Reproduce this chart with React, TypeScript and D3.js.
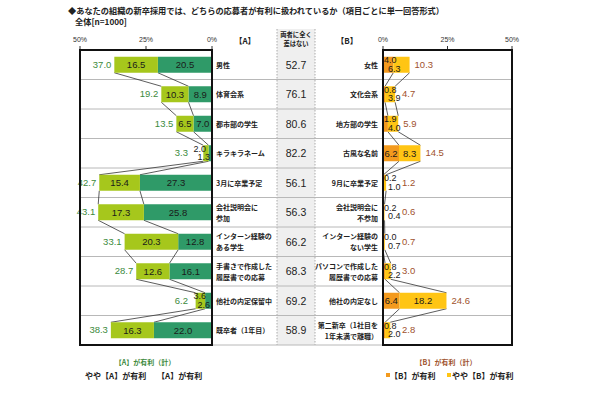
import * as d3 from "d3";

const labelsA = ["男性", "体育会系", "都市部の学生", "キラキラネーム", "3月に卒業予定", "会社説明会に\n参加", "インターン経験の\nある学生", "手書きで作成した\n履歴書での応募", "他社の内定保留中", "既卒者（1年目）"];
const labelsB = ["女性", "文化会系", "地方部の学生", "古風な名前", "9月に卒業予定", "会社説明会に\n不参加", "インターン経験の\nない学生", "パソコンで作成した\n履歴書での応募", "他社の内定なし", "第二新卒（1社目を\n1年未満で離職）"];
const aStrong = [20.5, 8.9, 7.0, 1.3, 27.3, 25.8, 12.8, 16.1, 2.6, 22.0];
const aSome = [16.5, 10.3, 6.5, 2.0, 15.4, 17.3, 20.3, 12.6, 3.6, 16.3];
const aTotal = [37.0, 19.2, 13.5, 3.3, 42.7, 43.1, 33.1, 28.7, 6.2, 38.3];
const neutral = [52.7, 76.1, 80.6, 82.2, 56.1, 56.3, 66.2, 68.3, 69.2, 58.9];
const bStrong = [4.0, 0.8, 1.9, 6.2, 0.2, 0.2, 0.0, 0.8, 6.4, 0.8];
const bSome = [6.3, 3.9, 4.0, 8.3, 1.0, 0.4, 0.7, 2.2, 18.2, 2.0];
const bTotal = [10.3, 4.7, 5.9, 14.5, 1.2, 0.6, 0.7, 3.0, 24.6, 2.8];
const ticks = [0, 25, 50];

const JP = "'Noto Sans CJK JP', sans-serif";
const NUM = "'Liberation Sans', Arial, sans-serif";
const C_DKGREEN = "#2f9a68";
const C_LTGREEN = "#a6c71c";
const C_ORANGE = "#f39a1e";
const C_YELLOW = "#ffc514";
const C_GTEXT = "#3c8a3c";
const C_BTEXT = "#a0522d";

const xL = d3.scaleLinear().domain([0, 50]).range([212, 80]);
const xR = d3.scaleLinear().domain([0, 50]).range([383, 512]);
const y = d3.scaleBand<number>().domain(d3.range(10)).range([50, 345]);
const barH = 16;
const fmt = d3.format(".1f");

const MultiLine = ({ text, x, cy, anchor }: { text: string; x: number; cy: number; anchor: string }) => {
  const lines = text.split("\n");
  const off = lines.length === 1 ? [3] : [-2.5, 8.5];
  return (
    <text x={x} textAnchor={anchor} fontFamily={JP} fontSize={7} fontWeight="bold" fill="#222">
      {lines.map((l, i) => (
        <tspan key={i} x={x} y={cy + off[i]}>{l}</tspan>
      ))}
    </text>
  );
};

export default function App() {
  const cy = (i: number) => (y(i) as number) + y.bandwidth() / 2;
  const top = (i: number) => cy(i) - barH / 2;
  const bot = (i: number) => cy(i) + barH / 2;
  const rows = d3.range(10);

  return (
    <svg width={610} height={400} style={{ position: "absolute", left: 0, top: 0, background: "#fff" }}>
      {/* title */}
      <text x={68} y={14} fontFamily={JP} fontSize={8.2} fontWeight="bold" fill="#222">
        ◆あなたの組織の新卒採用では、どちらの応募者が有利に扱われているか（項目ごとに単一回答形式）
      </text>
      <text x={75} y={25} fontFamily={JP} fontSize={8.2} fontWeight="bold" fill="#222">全体[n=1000]</text>

      {/* neutral column bg */}
      <rect x={277} y={29} width={38} height={316} fill="#efefef" />
      <line x1={277} x2={277} y1={29} y2={345} stroke="#aaa" strokeDasharray="1.5,1.5" />
      <line x1={315} x2={315} y1={29} y2={345} stroke="#aaa" strokeDasharray="1.5,1.5" />
      <text x={296} textAnchor="middle" fontFamily={JP} fontSize={6.3} fontWeight="bold" fill="#222">
        <tspan x={296} y={37}>両者に全く</tspan>
        <tspan x={296} y={46}>差はない</tspan>
      </text>
      <text x={245} y={44} textAnchor="middle" fontFamily={JP} fontSize={8} fontWeight="bold" fill="#222">【A】</text>
      <text x={347} y={44} textAnchor="middle" fontFamily={JP} fontSize={8} fontWeight="bold" fill="#222">【B】</text>

      {/* axis ticks */}
      {ticks.map(t => (
        <g key={"t" + t}>
          <text x={xL(t)} y={42} textAnchor="middle" fontFamily={NUM} fontSize={7} fill="#333">{t}%</text>
          <text x={xR(t)} y={42} textAnchor="middle" fontFamily={NUM} fontSize={7} fill="#333">{t}%</text>
          <line x1={xL(t)} x2={xL(t)} y1={46} y2={50} stroke="#333" />
          <line x1={xR(t)} x2={xR(t)} y1={46} y2={50} stroke="#333" />
        </g>
      ))}

      {/* row separators */}
      {rows.slice(1).map(i => (
        <line key={"s" + i} x1={80} x2={512} y1={y(i) as number} y2={y(i) as number} stroke="#b8b8b8" />
      ))}
      <line x1={212} x2={383} y1={345} y2={345} stroke="#b8b8b8" />

      {/* connectors */}
      {rows.slice(0, 9).map(i => (
        <g key={"c" + i} stroke="#333" strokeWidth={0.8}>
          <line x1={xL(aTotal[i])} y1={bot(i)} x2={xL(aTotal[i + 1])} y2={top(i + 1)} />
          <line x1={xL(aStrong[i])} y1={bot(i)} x2={xL(aStrong[i + 1])} y2={top(i + 1)} />
          <line x1={xR(bTotal[i])} y1={bot(i)} x2={xR(bTotal[i + 1])} y2={top(i + 1)} />
          <line x1={xR(bStrong[i])} y1={bot(i)} x2={xR(bStrong[i + 1])} y2={top(i + 1)} />
        </g>
      ))}

      {/* bars */}
      {rows.map(i => {
        const wS = xL(0) - xL(aStrong[i]);
        const wM = xL(aStrong[i]) - xL(aTotal[i]);
        const insideA = wS >= 15 && wM >= 15;
        const wBo = xR(bStrong[i]) - xR(0);
        const wBy = xR(bTotal[i]) - xR(bStrong[i]);
        const insideB = wBo >= 15;
        return (
          <g key={"r" + i}>
            <rect x={xL(aStrong[i])} y={top(i)} width={wS} height={barH} fill={C_DKGREEN} />
            <rect x={xL(aTotal[i])} y={top(i)} width={wM} height={barH} fill={C_LTGREEN} />
            <rect x={xR(0)} y={top(i)} width={wBo} height={barH} fill={C_ORANGE} />
            <rect x={xR(bStrong[i])} y={top(i)} width={wBy} height={barH} fill={C_YELLOW} />

            {insideA ? (
              <g fontFamily={NUM} fontSize={9.5} fill="#1a1a1a" textAnchor="middle">
                <text x={xL(aStrong[i]) + wS / 2} y={cy(i) + 3.5}>{fmt(aStrong[i])}</text>
                <text x={xL(aTotal[i]) + wM / 2} y={cy(i) + 3.5}>{fmt(aSome[i])}</text>
              </g>
            ) : (
              <g fontFamily={NUM} fontSize={9} fill="#1a1a1a" textAnchor="end">
                <text x={xL(0) - 6} y={cy(i) - 1.5}>{fmt(aSome[i])}</text>
                <text x={xL(0) - 2} y={cy(i) + 7}>{fmt(aStrong[i])}</text>
              </g>
            )}
            <text x={Math.min(xL(aTotal[i]) - 3, 188)} y={cy(i) + 3} textAnchor="end" fontFamily={NUM} fontSize={9.5} fill={C_GTEXT}>{fmt(aTotal[i])}</text>

            {insideB ? (
              <g fontFamily={NUM} fontSize={9.5} fill="#1a1a1a" textAnchor="middle">
                <text x={xR(0) + wBo / 2} y={cy(i) + 3.5}>{fmt(bStrong[i])}</text>
                <text x={xR(bStrong[i]) + wBy / 2} y={cy(i) + 3.5}>{fmt(bSome[i])}</text>
              </g>
            ) : (
              <g fontFamily={NUM} fontSize={9} fill="#1a1a1a" textAnchor="start">
                <text x={xR(0) + 1} y={cy(i) - 1.5}>{fmt(bStrong[i])}</text>
                <text x={xR(0) + 5} y={cy(i) + 7}>{fmt(bSome[i])}</text>
              </g>
            )}
            <text x={Math.max(xR(bTotal[i]) + 5, 402)} y={cy(i) + 3} fontFamily={NUM} fontSize={9.5} fill={C_BTEXT}>{fmt(bTotal[i])}</text>

            <text x={296} y={cy(i) + 4} textAnchor="middle" fontFamily={NUM} fontSize={10.5} fill="#222">{fmt(neutral[i])}</text>
            <MultiLine text={labelsA[i]} x={216} cy={cy(i)} anchor="start" />
            <MultiLine text={labelsB[i]} x={378} cy={cy(i)} anchor="end" />
          </g>
        );
      })}

      {/* boxes */}
      <rect x={80} y={50} width={132} height={295} fill="none" stroke="#111" strokeWidth={2} />
      <rect x={383} y={50} width={129} height={295} fill="none" stroke="#111" strokeWidth={2} />

      {/* legends */}
      <text x={145} y={365} textAnchor="middle" fontFamily={JP} fontSize={7} fontWeight="bold" fill={C_GTEXT}>【A】が有利（計）</text>
      <text x={85} y={379} fontFamily={JP} fontSize={8} fontWeight="bold" fill="#222">やや【A】が有利</text>
      <text x={157} y={379} fontFamily={JP} fontSize={8} fontWeight="bold" fill="#222">【A】が有利</text>

      <text x={446} y={365} textAnchor="middle" fontFamily={JP} fontSize={7} fontWeight="bold" fill={C_BTEXT}>【B】が有利（計）</text>
      <rect x={386} y={373} width={4} height={4} fill={C_ORANGE} />
      <text x={390} y={379} fontFamily={JP} fontSize={8} fontWeight="bold" fill="#222">【B】が有利</text>
      <rect x={447} y={373} width={4} height={4} fill={C_YELLOW} />
      <text x={452} y={379} fontFamily={JP} fontSize={8} fontWeight="bold" fill="#222">やや【B】が有利</text>
    </svg>
  );
}
